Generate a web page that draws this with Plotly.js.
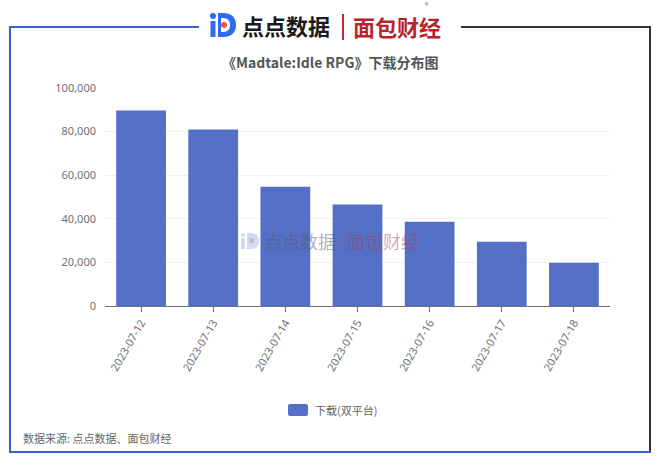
<!DOCTYPE html>
<html>
<head>
<meta charset="utf-8">
<script src="https://cdn.plot.ly/plotly-3.0.1.min.js"></script>
<style>html,body{margin:0;padding:0;background:#fff;}#chart{width:660px;height:463px;}</style>
</head>
<body>
<div id="chart"></div>
<script>
var categories = ["2023-07-12","2023-07-13","2023-07-14","2023-07-15","2023-07-16","2023-07-17","2023-07-18"];
var downloads = [89700, 81000, 54700, 46600, 38600, 29500, 19800];
var seriesName = "下载(双平台)";
var yTickVals = [0, 20000, 40000, 60000, 80000, 100000];
var yTickText = ["0", "20,000", "40,000", "60,000", "80,000", "100,000"];

var L = 105, R = 610, T = 88, B = 306;
function px(x){ return (x - L) / (R - L); }
function py(y){ return (B - y) / (B - T); }
function P(x, y){ return px(x) + "," + py(y); }

var CJK = '"Noto Sans CJK SC", "Noto Sans", sans-serif';
var barColor = "#5470c6";

var shapes = [
  // frame
  {type:"line", xref:"paper", yref:"paper", x0:px(10), y0:py(27), x1:px(199), y1:py(27), line:{color:"#3a62d6", width:2}},
  {type:"line", xref:"paper", yref:"paper", x0:px(10), y0:py(26), x1:px(10), y1:py(453), line:{color:"#3a62d6", width:2}},
  {type:"line", xref:"paper", yref:"paper", x0:px(10), y0:py(452), x1:px(651), y1:py(452), line:{color:"#3a62d6", width:2}},
  {type:"line", xref:"paper", yref:"paper", x0:px(461), y0:py(27), x1:px(650), y1:py(27), line:{color:"#333333", width:2}},
  {type:"line", xref:"paper", yref:"paper", x0:px(650), y0:py(26), x1:px(650), y1:py(451), line:{color:"#333333", width:2}},
  // logo icon
  {type:"circle", xref:"paper", yref:"paper", x0:px(210), y0:py(13), x1:px(216), y1:py(19), fillcolor:"#2f6bf0", line:{width:0}},
  {type:"rect", xref:"paper", yref:"paper", x0:px(210.5), y0:py(21), x1:px(215.5), y1:py(37), fillcolor:"#2f6bf0", line:{width:0}},
  {type:"path", xref:"paper", yref:"paper",
   path:"M"+P(218,13)+" L"+P(223,13)+" C"+P(233,13)+" "+P(236,19)+" "+P(236,25)+" C"+P(236,31)+" "+P(233,37)+" "+P(223,37)+" L"+P(218,37)+" Z",
   fillcolor:"#2f6bf0", line:{width:0}},
  {type:"path", xref:"paper", yref:"paper",
   path:"M"+P(221,18)+" L"+P(223,18)+" C"+P(228,18)+" "+P(230,21)+" "+P(230,25)+" C"+P(230,29)+" "+P(228,32)+" "+P(223,32)+" L"+P(221,32)+" Z",
   fillcolor:"#ffffff", line:{width:0}},
  {type:"circle", xref:"paper", yref:"paper", x0:px(221), y0:py(22), x1:px(227), y1:py(28), fillcolor:"#f2553c", line:{width:0}},
  // divider
  {type:"line", xref:"paper", yref:"paper", x0:px(343), y0:py(14), x1:px(343), y1:py(40), line:{color:"#c0282d", width:2}},
  // watermark icon
  {type:"circle", xref:"paper", yref:"paper", x0:px(241), y0:py(233), x1:px(245), y1:py(237), fillcolor:"rgba(120,150,220,0.35)", line:{width:0}},
  {type:"rect", xref:"paper", yref:"paper", x0:px(241), y0:py(238), x1:px(245), y1:py(249), fillcolor:"rgba(120,150,220,0.35)", line:{width:0}},
  {type:"path", xref:"paper", yref:"paper",
   path:"M"+P(247,233)+" L"+P(250,233)+" C"+P(257,233)+" "+P(259,237)+" "+P(259,241)+" C"+P(259,245)+" "+P(257,249)+" "+P(250,249)+" L"+P(247,249)+" Z",
   fillcolor:"rgba(120,150,220,0.35)", line:{width:0}},
  {type:"circle", xref:"paper", yref:"paper", x0:px(249), y0:py(238), x1:px(254), y1:py(243), fillcolor:"rgba(240,120,110,0.45)", line:{width:0}},
  {type:"line", xref:"paper", yref:"paper", x0:px(340), y0:py(233), x1:px(340), y1:py(250), line:{color:"rgba(160,90,100,0.35)", width:1}},
  // legend swatch (rounded)
  {type:"path", xref:"paper", yref:"paper",
   path:"M"+P(290,404)+" L"+P(306,404)+" Q"+P(308,404)+" "+P(308,406)+" L"+P(308,414)+" Q"+P(308,416)+" "+P(306,416)+" L"+P(290,416)+" Q"+P(288,416)+" "+P(288,414)+" L"+P(288,406)+" Q"+P(288,404)+" "+P(290,404)+" Z",
   fillcolor:barColor, line:{width:0}}
];

var annotations = [
  {xref:"paper", yref:"paper", x:px(240), y:py(25), xanchor:"left", yanchor:"middle", showarrow:false,
   text:"<b>点点数据</b>", font:{family:CJK, size:22, color:"#1a1a1a"}},
  {xref:"paper", yref:"paper", x:px(351), y:py(26), xanchor:"left", yanchor:"middle", showarrow:false,
   text:"<b>面包财经</b>", font:{family:CJK, size:22, color:"#b8232b"}},
  {xref:"paper", yref:"paper", x:px(427), y:py(5), xanchor:"center", yanchor:"middle", showarrow:false,
   text:"®", font:{family:CJK, size:7, color:"#555555"}},
  {xref:"paper", yref:"paper", x:px(330), y:py(62), xanchor:"center", yanchor:"middle", showarrow:false,
   text:"<b>《Madtale:Idle RPG》下载分布图</b>", font:{family:CJK, size:14, color:"#555555"}},
  {xref:"paper", yref:"paper", x:px(313), y:py(410), xanchor:"left", yanchor:"middle", showarrow:false,
   text:seriesName, font:{family:CJK, size:11, color:"#666666"}},
  {xref:"paper", yref:"paper", x:px(21), y:py(438), xanchor:"left", yanchor:"middle", showarrow:false,
   text:"数据来源: 点点数据、面包财经", font:{family:CJK, size:11, color:"#666666"}},
  // watermark
  {xref:"paper", yref:"paper", x:px(262), y:py(241), xanchor:"left", yanchor:"middle", showarrow:false,
   text:"点点数据", font:{family:CJK, size:18, color:"rgba(80,80,100,0.45)"}},
  {xref:"paper", yref:"paper", x:px(345), y:py(241), xanchor:"left", yanchor:"middle", showarrow:false,
   text:"面包财经", font:{family:CJK, size:18, color:"rgba(170,60,80,0.45)"}}
];

var trace = {
  type: "bar",
  x: categories,
  y: downloads,
  name: seriesName,
  marker: {color: barColor},
  hoverinfo: "x+y"
};

var layout = {
  width: 660, height: 463,
  margin: {l: L, r: 660 - R, t: T, b: 463 - B, pad: 0},
  paper_bgcolor: "#ffffff",
  plot_bgcolor: "#ffffff",
  bargap: 0.31,
  showlegend: false,
  xaxis: {
    type: "category",
    tickangle: -60,
    ticks: "outside", ticklen: 5, tickcolor: "#6e7079",
    showline: true, linecolor: "#6e7079", linewidth: 1,
    showgrid: false, zeroline: false,
    tickfont: {family: '"Noto Sans", sans-serif', size: 11, color: "#6e7079"}
  },
  yaxis: {
    range: [0, 100000],
    tickvals: yTickVals, ticktext: yTickText,
    showgrid: true, gridcolor: "#eef0f4", gridwidth: 1,
    zeroline: false, showline: false, ticks: "",
    ticklabelstandoff: 8,
    tickfont: {family: '"Noto Sans", sans-serif', size: 11, color: "#6e7079"}
  },
  shapes: shapes,
  annotations: annotations
};

Plotly.newPlot("chart", [trace], layout, {displayModeBar: false, staticPlot: true});
</script>
</body>
</html>
